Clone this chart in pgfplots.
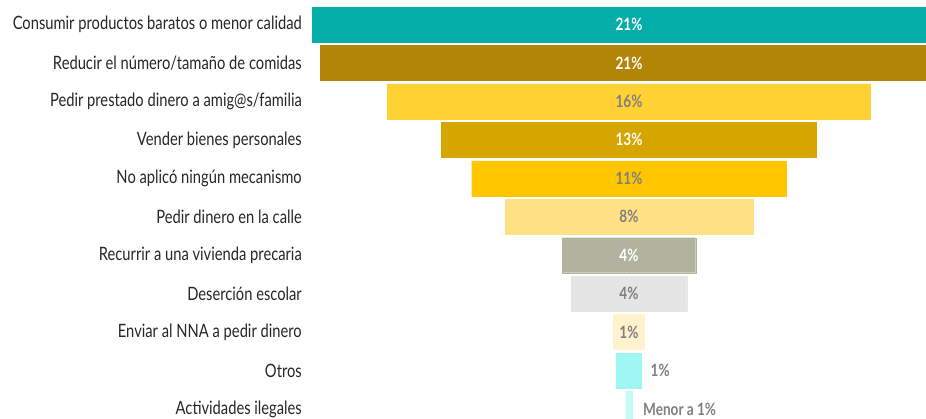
\documentclass[border=0pt]{standalone}
\usepackage{fontspec}
\setmainfont{Lato}[FakeStretch=0.8]
\usepackage{pgfplots}
\pgfplotsset{compat=1.18}
\definecolor{c1}{HTML}{05ADA8}
\definecolor{c2}{HTML}{B38506}
\definecolor{c3}{HTML}{FFD133}
\definecolor{c4}{HTML}{D6A500}
\definecolor{c5}{HTML}{FFC600}
\definecolor{c6}{HTML}{FFE085}
\definecolor{c7}{HTML}{B1B39F}
\definecolor{c8}{HTML}{E5E5E5}
\definecolor{c9}{HTML}{FFF2CC}
\definecolor{c10}{HTML}{9EF7F2}
\definecolor{c11}{HTML}{C3FAF7}
\definecolor{lab}{HTML}{262626}
\definecolor{pg}{HTML}{7F7F7F}
\begin{document}
\begin{tikzpicture}
\useasboundingbox (0,0) rectangle (926pt,419pt);
\begin{axis}[
  at={(312pt,-9.2pt)}, anchor=south west,
  scale only axis, width=634pt, height=422.9pt,
  xmin=-10.5, xmax=10.5, ymin=-0.5, ymax=10.5, y dir=reverse,
  clip=false,
  xbar, bar width=35pt, bar shift=0pt,
  axis line style={draw=none},
  xtick=\empty, major tick length=0pt,
  ytick={0,...,10},
  yticklabels={Consumir productos baratos o menor calidad,
    Reducir el número/tamaño de comidas,
    Pedir prestado dinero a amig@s/familia,
    Vender bienes personales,
    No aplicó ningún mecanismo,
    Pedir dinero en la calle,
    Recurrir a una vivienda precaria,
    Deserción escolar,
    Enviar al NNA a pedir dinero,
    Otros,
    Actividades ilegales},
  yticklabel style={font=\fontsize{18.4}{21}\selectfont, text=lab, inner sep=0pt, xshift=-10pt},
  every axis plot/.append style={line width=0.3pt},
]
% each bar drawn from -v/2 to +v/2 (value v in percent)
\addplot[fill=c1, draw=c1]   coordinates {(-10.50,0) (10.50,0)};
\addplot[fill=c2, draw=c2]   coordinates {(-10.23,1) (10.23,1)};
\addplot[fill=c3, draw=c3]   coordinates {(-8.00,2) (8.00,2)};
\addplot[fill=c4, draw=c4]   coordinates {(-6.21,3) (6.21,3)};
\addplot[fill=c5, draw=c5]   coordinates {(-5.21,4) (5.21,4)};
\addplot[fill=c6, draw=c6]   coordinates {(-4.11,5) (4.11,5)};
\addplot[fill=c7, draw=c7]   coordinates {(-2.21,6) (2.21,6)};
\addplot[fill=c8, draw=c8]   coordinates {(-1.91,7) (1.91,7)};
\addplot[fill=c9, draw=c9]   coordinates {(-0.51,8) (0.51,8)};
\addplot[fill=c10, draw=c10] coordinates {(-0.41,9) (0.41,9)};
\addplot[fill=c11, draw=c11] coordinates {(-0.11,10) (0.11,10)};
\tikzset{pl/.style={font=\fontsize{17}{19}\selectfont\bfseries}}
\node[pl, text=white] at (axis cs:0,0) {21\%};
\node[pl, text=white] at (axis cs:0,1) {21\%};
\node[pl, text=pg] at (axis cs:0,2) {16\%};
\node[pl, text=white] at (axis cs:0,3) {13\%};
\node[pl, text=pg] at (axis cs:0,4) {11\%};
\node[pl, text=pg] at (axis cs:0,5) {8\%};
\node[pl, text=white] at (axis cs:0,6) {4\%};
\node[pl, text=pg] at (axis cs:0,7) {4\%};
\node[pl, text=pg] at (axis cs:0,8) {1\%};
\node[pl, text=pg, anchor=west] at (axis cs:0.6,9) {1\%};
\node[pl, text=pg, anchor=west] at (axis cs:0.35,10) {Menor a 1\%};
\end{axis}
\end{tikzpicture}
\end{document}
